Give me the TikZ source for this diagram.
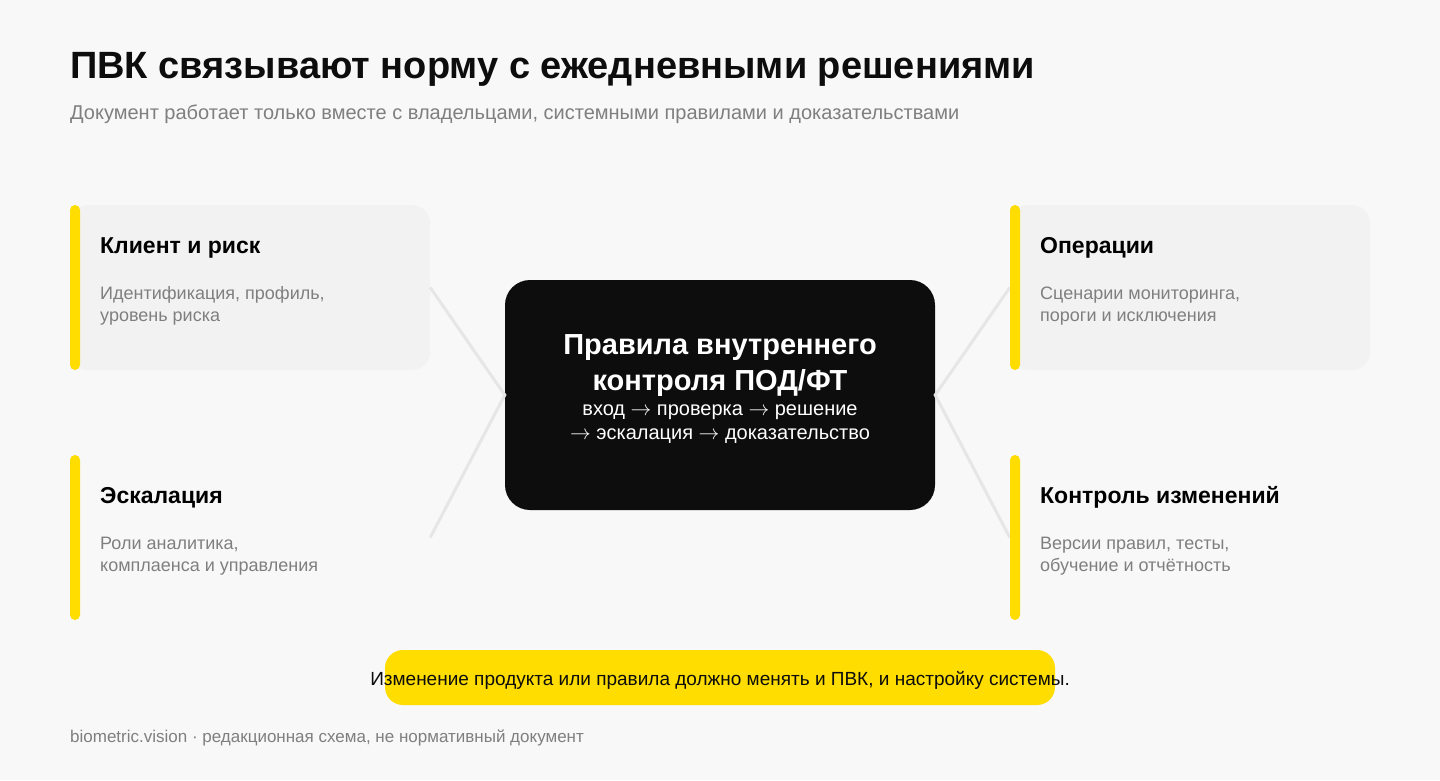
\documentclass[tikz,border=0pt]{standalone}
\usepackage{fontspec}
\setmainfont{Liberation Sans}
\newcommand{\ar}{$\rightarrow$}
\definecolor{paper}{HTML}{F8F8F8}
\definecolor{cardbg}{HTML}{F2F2F2}
\definecolor{ylw}{HTML}{FFDD00}
\definecolor{greytxt}{HTML}{7F7F7F}
\definecolor{ink}{HTML}{0D0D0D}
\definecolor{linkc}{HTML}{E6E6E6}
\begin{document}
\begin{tikzpicture}[x=1pt,y=-1pt,inner sep=0,
	card/.style={minimum width=360,minimum height=165,rounded corners=18pt},
	bar/.style={fill=ylw,rounded corners=5pt},
	head/.style={anchor=base west,font=\fontsize{23}{27}\selectfont\bfseries},
	body/.style={anchor=base west,align=left,text=greytxt,font=\fontsize{18}{22}\selectfont},
	link/.style={draw=linkc,line width=3pt}]
	\fill[paper] (0,0) rectangle (1440,780);
	\useasboundingbox (0,0) rectangle (1440,780);
	\node[anchor=base west,font=\fontsize{38}{44}\selectfont\bfseries,text=ink] (T) at (70,78) {ПВК связывают норму с ежедневными решениями};
	\node[anchor=base west,text=greytxt,font=\fontsize{20}{24}\selectfont] (S) at (70,119) {Документ работает только вместе с владельцами, системными правилами и доказательствами};
	% cards
	\node[card,fill=cardbg] (K) at (250,287.5) {};
	\node[card] (E) at (250,537.5) {};
	\node[card,fill=cardbg] (O) at (1190,287.5) {};
	\node[card] (V) at (1190,537.5) {};
	\node[fill=ink,minimum width=430,minimum height=230,rounded corners=25pt] (C) at (720,395) {};
	\draw[link] (K.east)--(C.west)--(E.east);
	\draw[link] (O.west)--(C.east)--(V.west);
	\fill[bar] (70,205) rectangle (80,370);
	\fill[bar] (70,455) rectangle (80,620);
	\fill[bar] (1010,205) rectangle (1020,370);
	\fill[bar] (1010,455) rectangle (1020,620);
	\node[head] at (100,253) {Клиент и риск};
	\node[body] at (100,321) {Идентификация, профиль,\\уровень риска};
	\node[head] at (100,503) {Эскалация};
	\node[body] at (100,571) {Роли аналитика,\\комплаенса и управления};
	\node[head] at (1040,253) {Операции};
	\node[body] at (1040,321) {Сценарии мониторинга,\\пороги и исключения};
	\node[head] at (1040,503) {Контроль изменений};
	\node[body] at (1040,571) {Версии правил, тесты,\\обучение и отчётность};
	% center text
	\node[anchor=base,text=white,font=\fontsize{29}{36}\selectfont\bfseries] at (720,354) {Правила внутреннего};
	\node[anchor=base,text=white,font=\fontsize{29}{36}\selectfont\bfseries] at (720,390) {контроля ПОД/ФТ};
	\node[anchor=base,text=white,font=\fontsize{20}{24}\selectfont] at (720,415) {вход \ar{} проверка \ar{} решение};
	\node[anchor=base,text=white,font=\fontsize{20}{24}\selectfont] at (720,439) {\ar{} эскалация \ar{} доказательство};
	% note
	\node[fill=ylw,minimum width=670,minimum height=55,rounded corners=18pt] (N) at (720,677.5) {};
	\node[anchor=base,text=ink,font=\fontsize{19}{22}\selectfont] at (720,685.5) {Изменение продукта или правила должно менять и ПВК, и настройку системы.};
	\node[anchor=base west,text=greytxt,font=\fontsize{17}{20}\selectfont] (F) at (70,742) {biometric.vision · редакционная схема, не нормативный документ};
\end{tikzpicture}
\end{document}
